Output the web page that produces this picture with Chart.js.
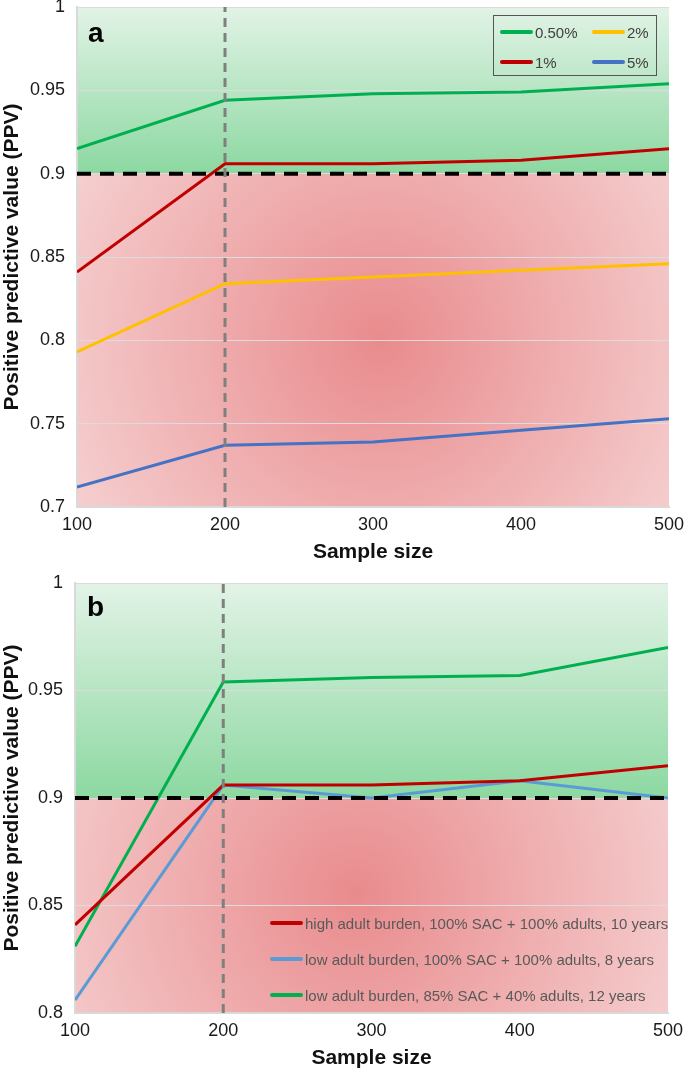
<!DOCTYPE html>
<html>
<head>
<meta charset="utf-8">
<title>PPV by sample size</title>
<script src="https://cdn.jsdelivr.net/npm/chart.js@4.4.1/dist/chart.umd.min.js"></script>
<style>
  body { margin: 0; background: #fff; font-family: 'Liberation Sans', Arial, sans-serif; }
  #page { position: relative; width: 685px; height: 1071px; overflow: hidden; }
  .panel { position: absolute; left: 0; width: 685px; }
  #panel-a { top: 0; height: 570px; }
  #panel-b { top: 570px; height: 501px; }
  .tag { position: absolute; font-weight: bold; font-size: 28px; color: #000; line-height: 1; }
  #legend-a {
    position: absolute; left: 493px; top: 15px; width: 164px; height: 61px;
    border: 1px solid #555; background: transparent;
    display: grid; grid-template-columns: 92px 70px; grid-template-rows: 30px 30px;
    padding-left: 6px; box-sizing: border-box; padding-top: 1px;
  }
  #legend-b { position: absolute; left: 270px; top: 905px; }
  .item { display: flex; align-items: center; font-size: 15px; color: #404040; white-space: nowrap; }
  #legend-b .item { height: 36px; color: #595959; }
  .swatch { display: inline-block; width: 33px; height: 4px; margin-right: 2px; border-radius: 2px; }
</style>
</head>
<body>
<div id="page">
  <div class="panel" id="panel-a"><canvas id="chart-a"></canvas></div>
  <div class="panel" id="panel-b"><canvas id="chart-b"></canvas></div>
  <div class="tag" style="left:88px; top:19px;">a</div>
  <div class="tag" style="left:87px; top:593px;">b</div>
  <div id="legend-a"></div>
  <div id="legend-b"></div>
</div>
<script>
'use strict';

// x axis: sample size
const sampleSizes = [100, 200, 300, 400, 500];
const xTicks = [100, 200, 300, 400, 500];

// panel a: prevalence levels
const prevalenceLabels = ['0.50%', '1%', '2%', '5%'];
const ppvHalfPercent = [0.915, 0.944, 0.948, 0.949, 0.954];
const ppvOnePercent = [0.841, 0.906, 0.906, 0.908, 0.915];
const ppvTwoPercent = [0.793, 0.834, 0.838, 0.842, 0.846];
const ppvFivePercent = [0.712, 0.737, 0.739, 0.746, 0.753];
const yTicksA = [0.7, 0.75, 0.8, 0.85, 0.9, 0.95, 1];

// panel b: treatment scenarios
const scenarioLabels = [
  'high adult burden, 100% SAC + 100% adults, 10 years',
  'low adult burden, 100% SAC + 100% adults, 8 years',
  'low adult burden, 85% SAC + 40% adults, 12 years',
];
const ppvHighBurden = [0.841, 0.906, 0.906, 0.908, 0.915];
const ppvLowBurdenFull = [0.806, 0.906, 0.900, 0.908, 0.900];
const ppvLowBurdenPartial = [0.831, 0.954, 0.956, 0.957, 0.970];
const yTicksB = [0.8, 0.85, 0.9, 0.95, 1];

const ppvThreshold = 0.9;
const cutoffSize = 200;

const FONT = "'Liberation Sans', Arial, sans-serif";

// green zone above threshold, red zone below with a soft hot spot
const zonePlugin = {
  id: 'zones',
  beforeDraw: function (chart, args, opts) {
    const area = chart.chartArea;
    const ctx = chart.ctx;
    const xs = chart.scales.x;
    const ys = chart.scales.y;
    const yCut = ys.getPixelForValue(ppvThreshold);
    ctx.save();
    const green = ctx.createLinearGradient(0, area.top, 0, yCut);
    green.addColorStop(0, '#e2f3e6');
    green.addColorStop(1, '#8cd8a1');
    ctx.fillStyle = green;
    ctx.fillRect(area.left, area.top, area.right - area.left, yCut - area.top);

    const cx = xs.getPixelForValue(opts.hotX);
    const cy = ys.getPixelForValue(opts.hotY);
    const red = ctx.createRadialGradient(cx, cy, 0, cx, cy, opts.radius);
    red.addColorStop(0, '#e98b8d');
    red.addColorStop(1, '#f8dfdf');
    ctx.fillStyle = red;
    ctx.fillRect(area.left, yCut, area.right - area.left, area.bottom - yCut);
    ctx.restore();
  },
};

function lineSet(label, values, color) {
  return {
    label: label,
    data: values.map(function (v, i) { return { x: sampleSizes[i], y: v }; }),
    borderColor: color,
    backgroundColor: color,
    borderWidth: 3,
    pointRadius: 0,
    tension: 0,
    order: 2,
  };
}

function guideSets(yMin, yMax) {
  return [
    {
      label: 'threshold',
      data: [{ x: sampleSizes[0], y: ppvThreshold }, { x: sampleSizes[sampleSizes.length - 1], y: ppvThreshold }],
      borderColor: '#000',
      borderWidth: 4,
      borderDash: [14, 9],
      pointRadius: 0,
      order: 1,
    },
    {
      label: 'cutoff',
      data: [{ x: cutoffSize, y: yMin }, { x: cutoffSize, y: yMax }],
      borderColor: '#7f7f7f',
      borderWidth: 3,
      borderDash: [9, 6],
      pointRadius: 0,
      order: 0,
    },
  ];
}

function makeChart(canvasId, series, yTicks, layout) {
  const yMin = yTicks[0];
  const yMax = yTicks[yTicks.length - 1];
  return new Chart(document.getElementById(canvasId), {
    type: 'line',
    data: { datasets: series.concat(guideSets(yMin, yMax)) },
    plugins: [zonePlugin],
    options: {
      responsive: true,
      maintainAspectRatio: false,
      animation: false,
      layout: { padding: { top: layout.top, right: layout.right, left: 0, bottom: 0 } },
      plugins: {
        legend: { display: false },
        tooltip: { enabled: false },
        zones: { hotX: layout.hotX, hotY: layout.hotY, radius: layout.radius },
      },
      scales: {
        x: {
          type: 'linear',
          min: xTicks[0],
          max: xTicks[xTicks.length - 1],
          afterBuildTicks: function (scale) {
            scale.ticks = xTicks.map(function (v) { return { value: v }; });
          },
          afterFit: function (scale) {
            scale.height = layout.xHeight;
            scale.paddingLeft = 0;
            scale.paddingRight = 0;
          },
          grid: { display: false, drawTicks: false, tickLength: 0 },
          border: { color: '#d9d9d9', width: 2 },
          ticks: {
            color: '#1a1a1a',
            padding: 7,
            maxRotation: 0,
            font: { family: FONT, size: 18 },
            callback: function (v) { return String(v); },
          },
          title: {
            display: true,
            text: 'Sample size',
            color: '#111',
            padding: { top: 0, bottom: layout.titlePad },
            font: { family: FONT, size: 21, weight: 'bold' },
          },
        },
        y: {
          min: yMin,
          max: yMax,
          afterBuildTicks: function (scale) {
            scale.ticks = yTicks.map(function (v) { return { value: v }; });
          },
          afterFit: function (scale) {
            scale.width = layout.yWidth;
            scale.paddingTop = 0;
            scale.paddingBottom = 0;
          },
          grid: { color: '#dcdcdc', lineWidth: 1, drawTicks: false },
          border: { color: '#d9d9d9', width: 2 },
          ticks: {
            color: '#1a1a1a',
            padding: 12,
            font: { family: FONT, size: 18 },
            callback: function (v) { return String(Number(v.toFixed(2))); },
          },
          title: {
            display: true,
            text: 'Positive predictive value (PPV)',
            color: '#111',
            padding: { top: 0, bottom: 0 },
            font: { family: FONT, size: 21, weight: 'bold' },
          },
        },
      },
    },
  });
}

const colorsA = ['#00b050', '#c00000', '#ffc000', '#4472c4'];
const seriesA = [ppvHalfPercent, ppvOnePercent, ppvTwoPercent, ppvFivePercent].map(function (values, i) {
  return lineSet(prevalenceLabels[i], values, colorsA[i]);
});

const colorsB = ['#c00000', '#5b9bd5', '#00b050'];
const seriesB = [ppvHighBurden, ppvLowBurdenFull, ppvLowBurdenPartial].map(function (values, i) {
  return lineSet(scenarioLabels[i], values, colorsB[i]);
});

makeChart('chart-a', seriesA, yTicksA, {
  top: 7, right: 16, yWidth: 77, xHeight: 63, titlePad: 5,
  hotX: 305, hotY: 0.8, radius: 430,
});
makeChart('chart-b', seriesB, yTicksB, {
  top: 13, right: 17, yWidth: 75, xHeight: 58, titlePad: 0,
  hotX: 290, hotY: 0.855, radius: 430,
});

function buildLegend(el, datasets, order) {
  order.forEach(function (idx) {
    const ds = datasets[idx];
    const item = document.createElement('div');
    item.className = 'item';
    const sw = document.createElement('span');
    sw.className = 'swatch';
    sw.style.background = ds.borderColor;
    item.appendChild(sw);
    item.appendChild(document.createTextNode(ds.label));
    el.appendChild(item);
  });
}

// legend a reads across rows: 0.50%, 2% / 1%, 5%
buildLegend(document.getElementById('legend-a'), seriesA, [0, 2, 1, 3]);
buildLegend(document.getElementById('legend-b'), seriesB, [0, 1, 2]);
</script>
</body>
</html>
